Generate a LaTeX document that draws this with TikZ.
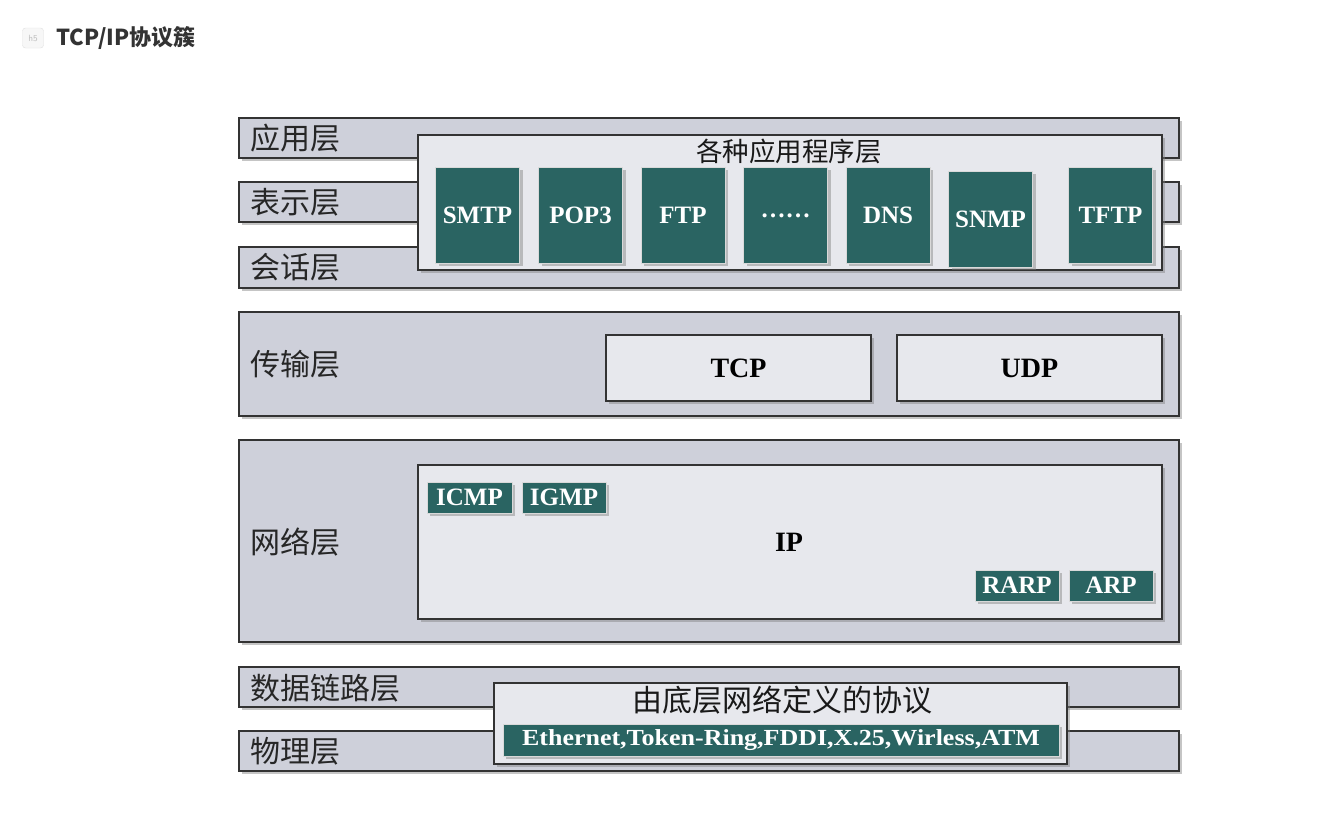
\documentclass[tikz,border=0pt]{standalone}
\usepackage{fontspec}
\setmainfont{Liberation Serif}
\newfontfamily\cjk{Noto Sans CJK SC}
\usetikzlibrary{shadows}
\definecolor{layerbg}{RGB}{206,208,218}
\definecolor{innerbg}{RGB}{231,232,237}
\definecolor{protogreen}{RGB}{42,100,98}

\begin{document}
\begin{tikzpicture}[x=1pt, y=-1pt,
  shade/.style={drop shadow={shadow xshift=3pt, shadow yshift=-3pt, opacity=0.45}},
  layer/.style={draw=black!80, line width=1.2pt, fill=layerbg, minimum width=940pt, inner sep=0pt, shade},
  inner/.style={draw=black!80, line width=1.2pt, fill=innerbg, inner sep=0pt, shade},
  proto/.style={draw=black!15, fill=protogreen, text=white, inner sep=0pt, shade,
    font=\fontsize{25}{27}\selectfont\bfseries},
  appbox/.style={proto, minimum width=84pt, minimum height=96pt},
  smallbox/.style={proto, minimum width=84pt, minimum height=31pt},
  lbl/.style={anchor=west, inner sep=0pt, text=black!85, font=\cjk\fontsize{30}{32}\selectfont},
  cjktitle/.style={inner sep=0pt, text=black!90, font=\cjk\fontsize{26.5}{28}\selectfont}]
  \fill[white] (0,0) rectangle (1335,815);
  \useasboundingbox (0,0) rectangle (1335,815);

  % heading of the note
  \node[draw=black!12, fill=black!3, rounded corners=3pt, minimum width=21pt, minimum height=20pt,
    inner sep=0pt, text=black!25, font=\sffamily\fontsize{9}{10}\selectfont] (icon) at (33,38) {h5};
  \node[anchor=west, inner sep=0pt, text=black!80, font=\cjk\bfseries\fontsize{22}{24}\selectfont]
    (title) at (56,38) {TCP/IP协议簇};

  % OSI layers
  \node[layer, minimum height=40pt]  (app)   at (709,138)   {};
  \node[layer, minimum height=40pt]  (pres)  at (709,202)   {};
  \node[layer, minimum height=41pt]  (sess)  at (709,267.5) {};
  \node[layer, minimum height=104pt] (trans) at (709,364)   {};
  \node[layer, minimum height=202pt] (net)   at (709,541)   {};
  \node[layer, minimum height=40pt]  (link)  at (709,687)   {};
  \node[layer, minimum height=40pt]  (phys)  at (709,751)   {};

  \node[lbl] (appL)   at (250,138) {应用层};
  \node[lbl] (presL)  at (250,202) {表示层};
  \node[lbl] (sessL)  at (250,267) {会话层};
  \node[lbl] (transL) at (250,364) {传输层};
  \node[lbl] (netL)   at (250,542) {网络层};
  \node[lbl] (linkL)  at (250,688) {数据链路层};
  \node[lbl] (physL)  at (250,751) {物理层};

  % application protocols
  \node[inner, minimum width=744pt, minimum height=135pt] (apps) at (790,202.5) {};
  \node[cjktitle] (appsT) at (789,151) {各种应用程序层};
  \node[appbox] (smtp) at (477.5,215)  {SMTP};
  \node[appbox] (pop)  at (580.5,215)  {POP3};
  \node[appbox] (ftp)  at (683,215)    {FTP};
  \node[appbox] (more) at (785.5,215)  {\raisebox{-5pt}{……}};
  \node[appbox] (dns)  at (888,215)    {DNS};
  \node[appbox] (snmp) at (990.5,219)  {SNMP};
  \node[appbox] (tftp) at (1110.5,215) {TFTP};

  % transport
  \node[inner, minimum width=265pt, minimum height=66pt, font=\fontsize{28}{30}\selectfont\bfseries]
    (tcp) at (738.5,368) {TCP};
  \node[inner, minimum width=265pt, minimum height=66pt, font=\fontsize{28}{30}\selectfont\bfseries]
    (udp) at (1029.5,368) {UDP};

  % network
  \node[inner, minimum width=744pt, minimum height=154pt] (ipbox) at (790,542) {};
  \node[font=\fontsize{28}{30}\selectfont\bfseries] (ip) at (789,542) {IP};
  \node[smallbox, minimum width=85pt] (icmp) at (469.5,497.5) {ICMP};
  \node[smallbox] (igmp) at (564,497.5)  {IGMP};
  \node[smallbox] (rarp) at (1017,585.5) {RARP};
  \node[smallbox] (arp)  at (1111,585.5) {ARP};

  % link and physical
  \node[inner, minimum width=573pt, minimum height=81pt] (lower) at (780.5,723.5) {};
  \node[cjktitle, font=\cjk\fontsize{30}{32}\selectfont] (lowerT) at (782,700) {由底层网络定义的协议};
  \node[proto, minimum width=556pt, minimum height=32pt, font=\fontsize{23}{25}\selectfont\bfseries]
    (nets) at (781,740) {\scalebox{1.13}[1]{Ethernet,Token-Ring,FDDI,X.25,Wirless,ATM}};
\end{tikzpicture}
\end{document}
